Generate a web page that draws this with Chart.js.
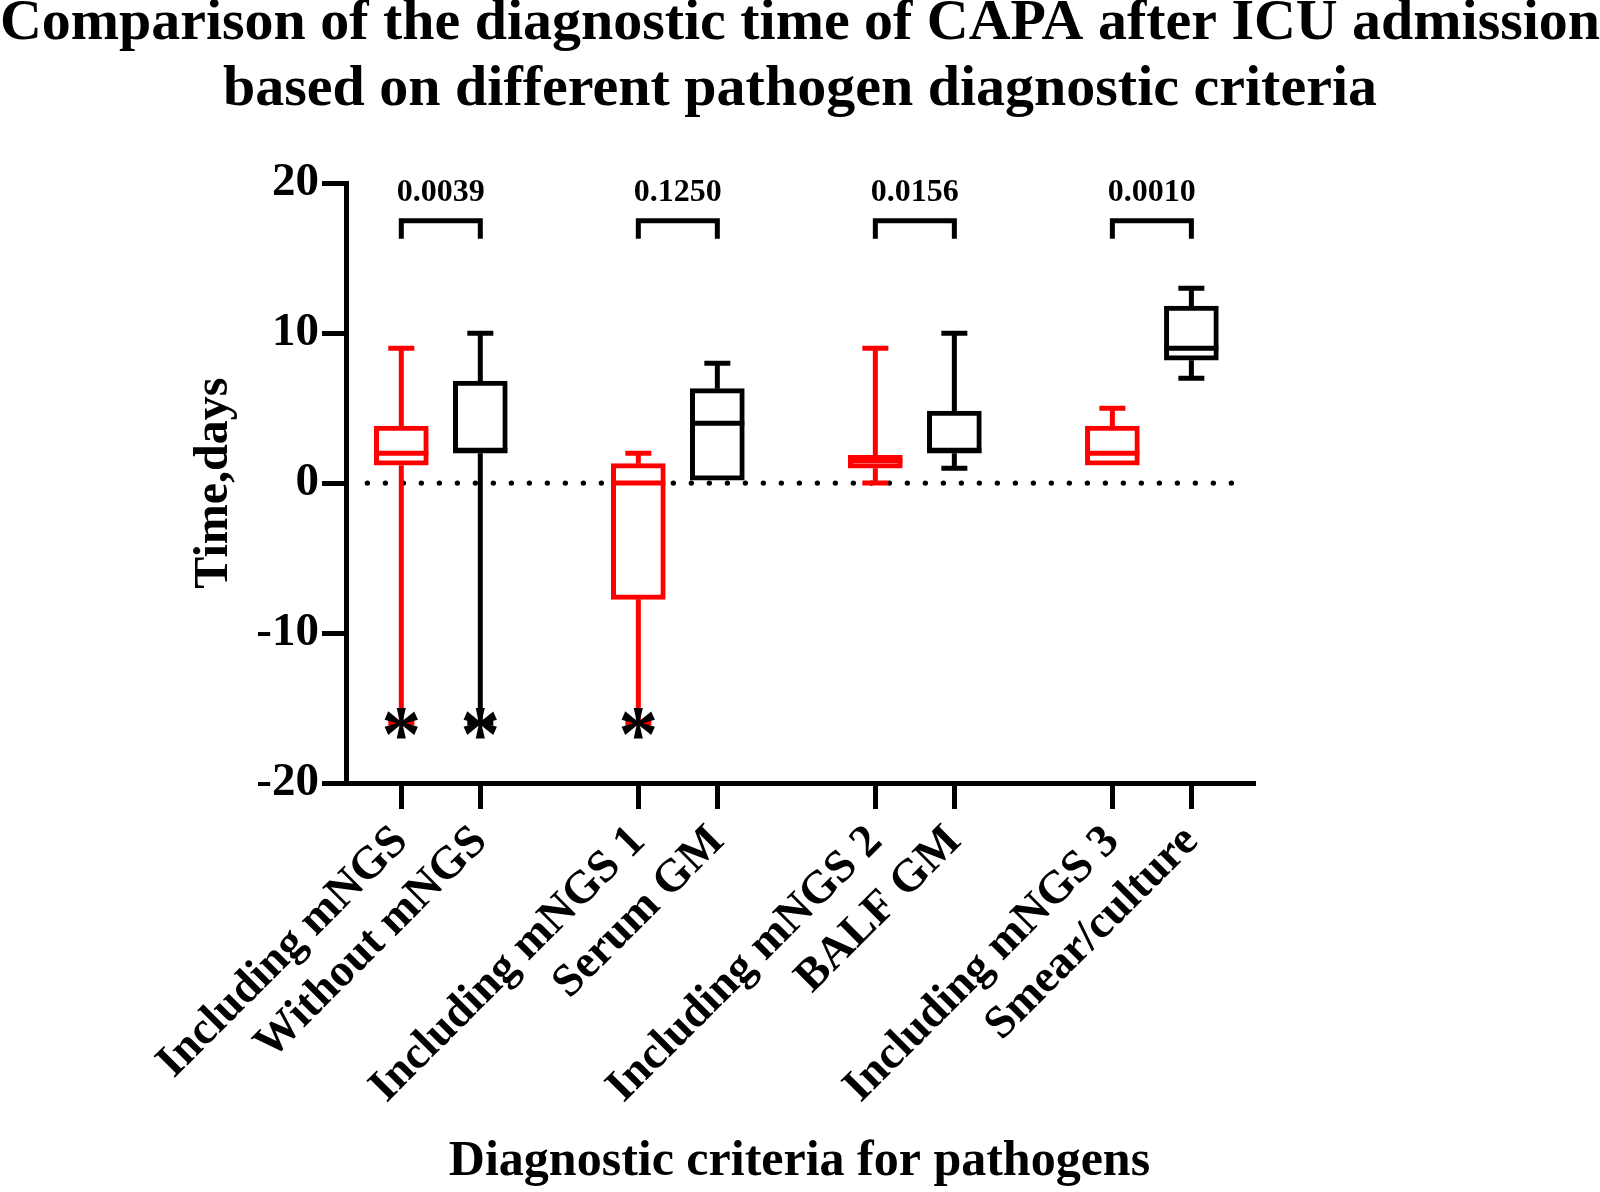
<!DOCTYPE html>
<html>
<head>
<meta charset="utf-8">
<title>CAPA diagnostic time</title>
<script src="https://cdn.jsdelivr.net/npm/chart.js@4.4.1/dist/chart.umd.min.js"></script>
<style>
  html, body { margin: 0; padding: 0; background: #fff; }
  #wrap { width: 1600px; height: 1192px; }
</style>
</head>
<body>
<div id="wrap"><canvas id="capaChart" width="1600" height="1192"></canvas></div>
<script>
// ---- data ----
const categories = [
  'Including mNGS', 'Without mNGS',
  'Including mNGS 1', 'Serum GM',
  'Including mNGS 2', 'BALF GM',
  'Including mNGS 3', 'Smear/culture'
];
// slot on the x axis (gaps between the pairs)
const slots = [0, 1, 3, 4, 6, 7, 9, 10];

const whiskerMin = [-16, -16, -16, 0.2, 0, 1, 1.2, 7];
const boxQ1      = [1.2, 2, -7.75, 0.2, 1, 2, 1.2, 8.2];
const boxMedian  = [2, 2.2, 0, 4, 1.5, 2.2, 2, 9];
const boxQ3      = [3.8, 6.8, 1.3, 6.3, 1.85, 4.8, 3.8, 11.8];
const whiskerMax = [9, 10, 2, 8, 9, 10, 5, 13];
const starMarks  = [-16, -16, -16, null, null, null, null, null];

const pairs   = [[0, 1], [2, 3], [4, 5], [6, 7]];
const pValues = ['0.0039', '0.1250', '0.0156', '0.0010'];

const yTicks = [-20, -10, 0, 10, 20];

const RED = '#ff0000';
const BLACK = '#000000';
const boxColors = categories.map((c, i) => (i % 2 === 0 ? RED : BLACK));
const SERIF = '"Liberation Serif", "Times New Roman", serif';

// ---- whiskers, medians, marks and p-value brackets ----
const boxExtras = {
  id: 'boxExtras',
  beforeDatasetsDraw(chart) {
    const { ctx, scales: { x, y } } = chart;
    // dotted zero line
    ctx.save();
    ctx.fillStyle = BLACK;
    const y0 = y.getPixelForValue(0);
    const xa = x.getPixelForValue(-0.43);
    const xb = x.getPixelForValue(10.5);
    for (let px = xa; px <= xb + 0.5; px += 18) {
      ctx.beginPath();
      ctx.arc(px, y0, 2.7, 0, Math.PI * 2);
      ctx.fill();
    }
    ctx.restore();
  },
  afterDatasetsDraw(chart) {
    const { ctx, scales: { x, y } } = chart;
    const halfBox = 27, halfCap = 13;
    ctx.save();
    ctx.lineWidth = 5;
    ctx.lineCap = 'butt';

    slots.forEach((s, i) => {
      const cx = x.getPixelForValue(s);
      ctx.strokeStyle = boxColors[i];
      ctx.beginPath();
      if (whiskerMax[i] > boxQ3[i]) {
        ctx.moveTo(cx, y.getPixelForValue(boxQ3[i]));
        ctx.lineTo(cx, y.getPixelForValue(whiskerMax[i]));
        ctx.moveTo(cx - halfCap, y.getPixelForValue(whiskerMax[i]));
        ctx.lineTo(cx + halfCap, y.getPixelForValue(whiskerMax[i]));
      }
      if (whiskerMin[i] < boxQ1[i]) {
        ctx.moveTo(cx, y.getPixelForValue(boxQ1[i]));
        ctx.lineTo(cx, y.getPixelForValue(whiskerMin[i]));
        ctx.moveTo(cx - halfCap, y.getPixelForValue(whiskerMin[i]));
        ctx.lineTo(cx + halfCap, y.getPixelForValue(whiskerMin[i]));
      }
      ctx.moveTo(cx - halfBox, y.getPixelForValue(boxMedian[i]));
      ctx.lineTo(cx + halfBox, y.getPixelForValue(boxMedian[i]));
      ctx.stroke();
    });

    // asterisks at the lowest values
    ctx.fillStyle = BLACK;
    ctx.font = 'bold 80px ' + SERIF;
    ctx.textAlign = 'center';
    ctx.textBaseline = 'alphabetic';
    let m = ctx.measureText('*');
    let shift = (m.actualBoundingBoxAscent - m.actualBoundingBoxDescent) / 2;
    starMarks.forEach((v, i) => {
      if (v === null) return;
      ctx.fillText('*', x.getPixelForValue(slots[i]), y.getPixelForValue(v) + shift);
    });

    // brackets + p values
    ctx.strokeStyle = BLACK;
    ctx.lineJoin = 'miter';
    ctx.font = 'bold 32px ' + SERIF;
    m = ctx.measureText('0.0');
    shift = (m.actualBoundingBoxAscent - m.actualBoundingBoxDescent) / 2;
    pairs.forEach(([a, b], k) => {
      const xa = x.getPixelForValue(slots[a]);
      const xb = x.getPixelForValue(slots[b]);
      const top = y.getPixelForValue(17.5);
      const leg = y.getPixelForValue(16.3);
      ctx.beginPath();
      ctx.moveTo(xa, leg);
      ctx.lineTo(xa, top);
      ctx.lineTo(xb, top);
      ctx.lineTo(xb, leg);
      ctx.stroke();
      ctx.fillText(pValues[k], (xa + xb) / 2, y.getPixelForValue(19.5) + shift);
    });
    ctx.restore();
  }
};

const ctx = document.getElementById('capaChart');
const chart = new Chart(ctx, {
  type: 'bar',
  data: {
    datasets: [{
      label: 'IQR',
      data: slots.map((s, i) => ({ x: s, y: [boxQ1[i], boxQ3[i]] })),
      backgroundColor: '#ffffff',
      borderColor: boxColors,
      borderWidth: 5,
      borderSkipped: false,
      barThickness: 54
    }]
  },
  options: {
    responsive: false,
    devicePixelRatio: 1,
    animation: false,
    layout: { padding: 0 },
    plugins: {
      legend: { display: false },
      tooltip: { enabled: false },
      title: {
        display: true,
        text: [
          'Comparison of the diagnostic time of CAPA after ICU admission',
          'based on different pathogen diagnostic criteria'
        ],
        color: BLACK,
        font: { family: SERIF, size: 58, weight: 'bold', lineHeight: 1.14 },
        padding: { top: -9, bottom: 60 }
      }
    },
    scales: {
      x: {
        type: 'linear',
        min: -0.7,
        max: 10.78,
        offset: false,
        afterBuildTicks: (scale) => { scale.ticks = slots.map(v => ({ value: v })); },
        afterFit: (scale) => { scale.height = 409; },
        ticks: {
          autoSkip: false,
          maxRotation: 45,
          minRotation: 45,
          padding: 6,
          color: BLACK,
          font: { family: SERIF, size: 46, weight: 'bold' },
          callback: (value, index) => categories[index]
        },
        grid: {
          offset: false,
          drawOnChartArea: false,
          drawTicks: true,
          tickLength: 26,
          lineWidth: 5,
          color: BLACK
        },
        border: { display: true, color: BLACK, width: 5 },
        title: {
          display: true,
          text: 'Diagnostic criteria for pathogens',
          color: BLACK,
          font: { family: SERIF, size: 50, weight: 'bold', lineHeight: 1.2 },
          padding: { top: 0, bottom: 0 }
        }
      },
      y: {
        min: -20,
        max: 20,
        afterBuildTicks: (scale) => { scale.ticks = yTicks.map(v => ({ value: v })); },
        afterFit: (scale) => { scale.width = 346; },
        ticks: {
          padding: 3,
          color: BLACK,
          font: { family: SERIF, size: 47, weight: 'bold' }
        },
        grid: {
          drawOnChartArea: false,
          drawTicks: true,
          tickLength: 24,
          lineWidth: 5,
          color: BLACK
        },
        border: { display: true, color: BLACK, width: 5 },
        title: {
          display: true,
          text: 'Time,days',
          color: BLACK,
          font: { family: SERIF, size: 48, weight: 'bold', lineHeight: 1.2 },
          padding: { top: 186, bottom: 0 }
        }
      },
      // empty right-hand box: keeps the plot narrow while the title stays centred on the page
      spacer: {
        type: 'linear',
        position: 'right',
        display: true,
        afterFit: (scale) => { scale.width = 347; },
        ticks: { display: false },
        grid: { display: false, drawTicks: false },
        border: { display: false }
      }
    }
  },
  plugins: [boxExtras]
});
</script>
</body>
</html>
